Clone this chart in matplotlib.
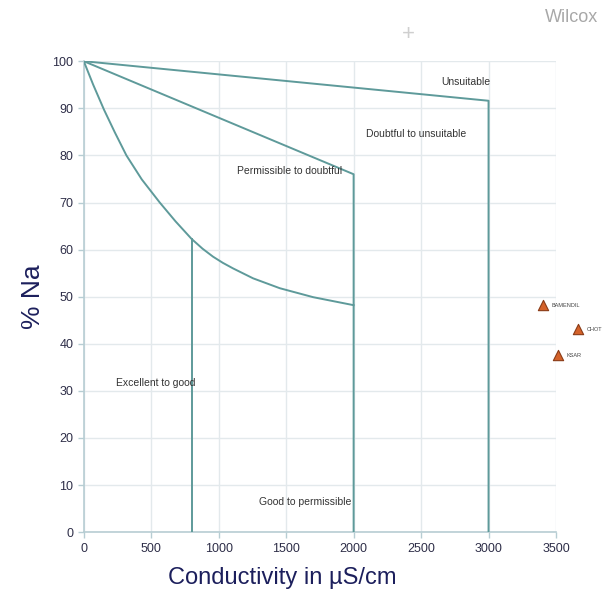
import matplotlib
matplotlib.use("Agg")
import matplotlib.pyplot as plt

plt.rcParams["font.family"] = ["Liberation Sans", "DejaVu Sans"]

# Wilcox diagram boundaries (conductivity in uS/cm, % Na)
upper_x = [0, 3000, 3000]
upper_y = [100, 91.6, 0]
middle_x = [0, 2000, 2000]
middle_y = [100, 76, 0]
lower_x = [0, 70, 150, 230, 316, 430, 563, 680, 798, 880, 958, 1030, 1107, 1255, 1453, 1700, 2000]
lower_y = [100, 95.0, 89.7, 84.9, 80.0, 74.9, 70.0, 66.0, 62.3, 60.2, 58.5, 57.2, 56.0, 53.9, 51.8, 49.9, 48.2]
excellent_x = [800, 800]
excellent_y = [62.3, 0]

# zone labels
zone_names = ["Unsuitable", "Doubtful to unsuitable", "Permissible to doubtful",
              "Excellent to good", "Good to permissible"]
zone_x = [2830, 2460, 1915, 530, 1640]
zone_y = [95.6, 84.6, 76.6, 31.6, 6.4]
zone_ha = ["center", "center", "right", "center", "center"]

# sampling sites
site_names = ["BAMENDIL", "CHOT", "KSAR"]
site_cond = [3405, 3665, 3515]
site_na = [48.2, 43.1, 37.6]

line_col = "#5e9a9a"
navy = "#1c1f5c"

fig = plt.figure(figsize=(6.07, 6.0), dpi=100)
ax = fig.add_axes([0.138, 0.113, 0.778, 0.785])

for xs, ys in [(upper_x, upper_y), (middle_x, middle_y),
               (lower_x, lower_y), (excellent_x, excellent_y)]:
    ax.plot(xs, ys, color=line_col, lw=1.4, zorder=3, solid_joinstyle="round")

for name, x, y, ha in zip(zone_names, zone_x, zone_y, zone_ha):
    ax.text(x, y, name, ha=ha, va="center", fontsize=7.5, color="#333333", zorder=4)

ax.scatter(site_cond, site_na, marker="^", s=55, color="#d4622a",
           edgecolors="#8a3b17", linewidths=0.8, clip_on=False, zorder=5)
for name, x, y in zip(site_names, site_cond, site_na):
    ax.text(x + 60, y, name, fontsize=4, va="center", color="#444444", clip_on=False)

ax.set_xlim(0, 3500)
ax.set_ylim(0, 100)
ax.set_xticks(range(0, 3501, 500))
ax.set_yticks(range(0, 101, 10))
ax.grid(True, color="#e3e9ec", lw=1)
ax.set_axisbelow(True)
for side in ["top", "right"]:
    ax.spines[side].set_visible(False)
for side in ["left", "bottom"]:
    ax.spines[side].set_color("#b7cdd3")
    ax.spines[side].set_linewidth(1.2)
ax.tick_params(colors="#b7cdd3", labelcolor="#2e2e48", labelsize=9, length=4, width=1)

ax.set_xlabel("Conductivity in µS/cm", fontsize=17, color=navy)
ax.xaxis.set_label_coords(0.42, -0.074)
ax.set_ylabel("% Na", fontsize=19, color=navy)
ax.yaxis.set_label_coords(-0.083, 0.5)

fig.text(0.985, 0.97, "Wilcox", ha="right", va="center", fontsize=13, color="#a8a8a8")
fig.text(0.672, 0.942, "+", ha="center", va="center", fontsize=16, color="#cfcfcf")

fig.savefig("out.png", dpi=100)
